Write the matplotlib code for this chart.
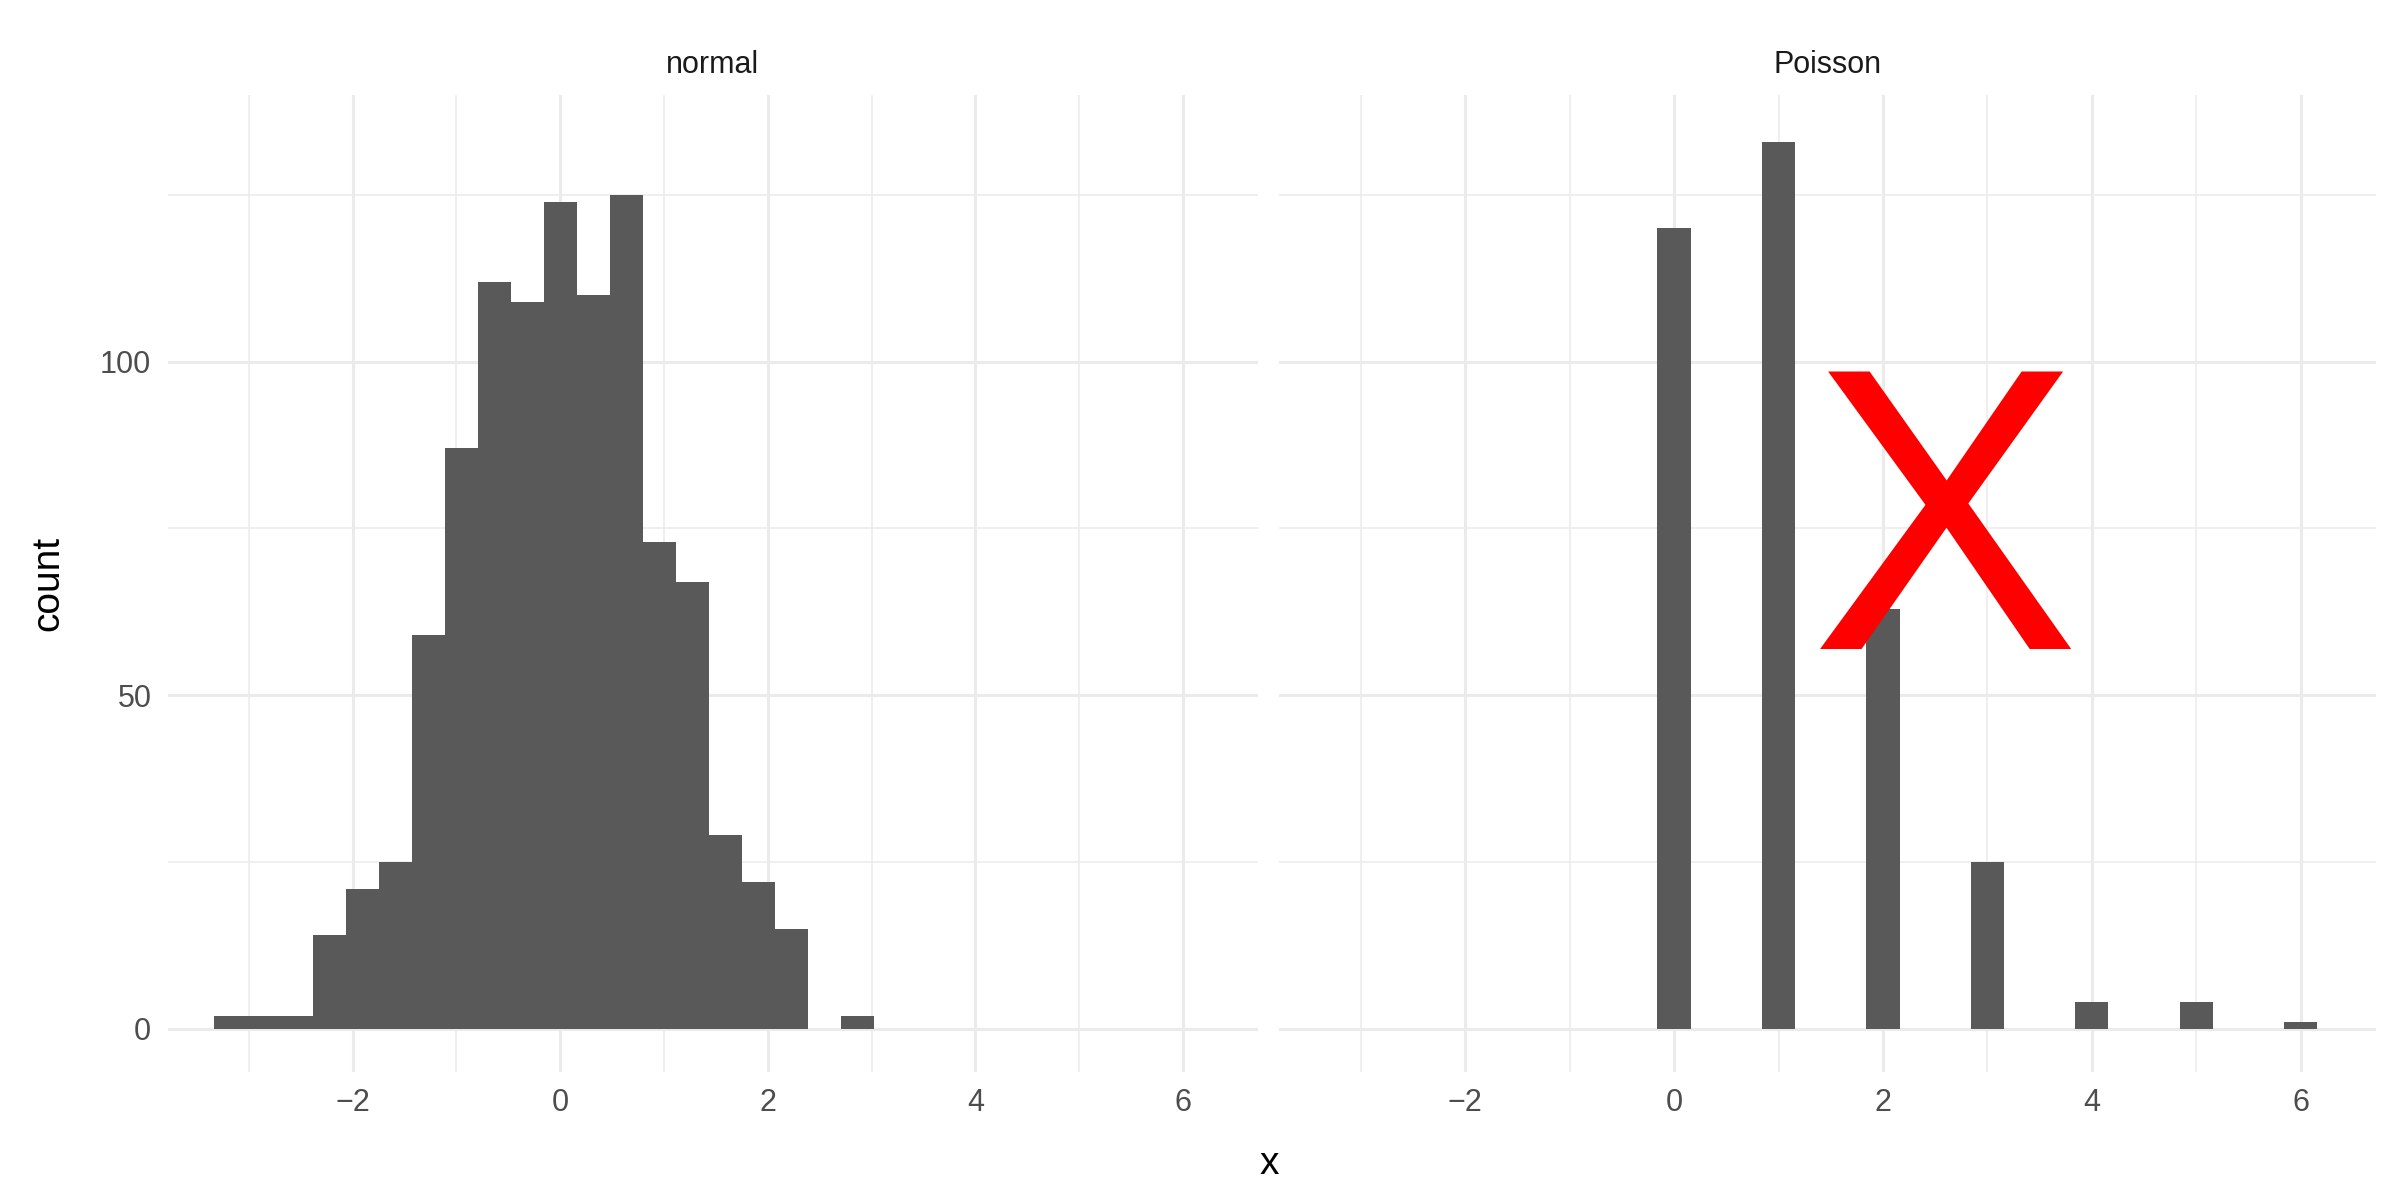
import numpy as np
import matplotlib
matplotlib.use("Agg")
import matplotlib.pyplot as plt

# data
binwidth = 0.318
normal_counts = [2, 2, 2, 14, 21, 25, 59, 87, 112, 109, 124, 110, 125, 73, 67, 29, 22, 15, 0, 2,
                 0, 0, 0, 0, 0, 0, 0, 0, 0, 0]
poisson_values = [0, 1, 2, 3, 4, 5, 6]
poisson_counts = [120, 133, 63, 25, 4, 4, 1]
panel_titles = ["normal", "Poisson"]
xticks = [-2, 0, 2, 4, 6]
yticks = [0, 50, 100]

first_edge = -0.159 - 10 * binwidth
edges = first_edge + binwidth * np.arange(len(normal_counts))

plt.rcParams["font.family"] = "Liberation Sans"
fig = plt.figure(figsize=(12, 6), dpi=200)
axL = fig.add_axes([0.070, 0.107, 0.454, 0.814])
axR = fig.add_axes([0.533, 0.107, 0.457, 0.814], sharey=axL)

for ax, title in zip([axL, axR], panel_titles):
    ax.set_xlim(-3.78, 6.72)
    ax.set_ylim(-6.4, 140)
    ax.set_xticks(xticks)
    ax.set_xticks([-3, -1, 1, 3, 5], minor=True)
    ax.set_yticks(yticks)
    ax.set_yticks([25, 75, 125], minor=True)
    ax.grid(True, which="major", color="#ebebeb", lw=1.1)
    ax.grid(True, which="minor", color="#ebebeb", lw=0.55)
    ax.set_axisbelow(True)
    for s in ax.spines.values():
        s.set_visible(False)
    ax.tick_params(which="both", length=0, labelsize=11, labelcolor="#4d4d4d", pad=6)
    ax.set_title(title, fontsize=11, color="#1a1a1a", pad=8)

axL.bar(edges, normal_counts, width=binwidth, align="edge", color="#595959", lw=0)
axR.bar(poisson_values, poisson_counts, width=binwidth, align="center", color="#595959", lw=0)
plt.setp(axR.get_yticklabels(), visible=False)

axR.text(2.6, 72.5, "X", color="red", fontsize=145, ha="center", va="center")

fig.text(0.02, 0.514, "count", rotation=90, fontsize=14, ha="center", va="center")
fig.text(0.529, 0.03, "x", fontsize=14, ha="center", va="center")
fig.savefig("out.png", dpi=200, facecolor="white")
